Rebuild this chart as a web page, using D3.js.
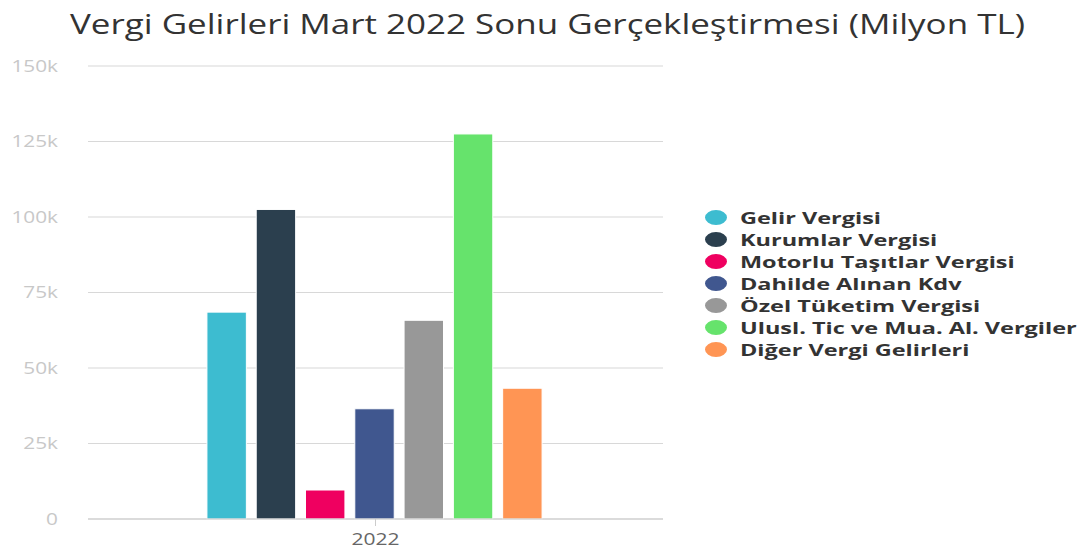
<!DOCTYPE html>
<html>
<head>
<meta charset="utf-8">
<script src="https://cdn.jsdelivr.net/npm/d3@7"></script>
<style>
  body { margin: 0; background: #fff; }
  text { font-family: "Open Sans", sans-serif; }
</style>
</head>
<body>
<div id="chart"></div>
<script>
var years = ["2022"];
var seriesNames = ["Gelir Vergisi", "Kurumlar Vergisi", "Motorlu Taşıtlar Vergisi", "Dahilde Alınan Kdv",
                   "Özel Tüketim Vergisi", "Ulusl. Tic ve Mua. Al. Vergiler", "Diğer Vergi Gelirleri"];
var seriesValues = [68500, 102500, 9600, 36500, 65800, 127500, 43300];
var seriesColors = ["#3dbcd0", "#2b3f4e", "#ef0060", "#40578f", "#989898", "#66e36c", "#ff9554"];
var yTicks = [0, 25000, 50000, 75000, 100000, 125000, 150000];

var W = 1088, H = 549;
var margin = {top: 66, right: 425, bottom: 30, left: 88};
var width = W - margin.left - margin.right,
    height = H - margin.top - margin.bottom;

var svg = d3.select("#chart").append("svg")
    .attr("width", W)
    .attr("height", H);

// title
svg.append("text")
    .attr("x", 70)
    .attr("y", 34)
    .attr("font-size", 27)
    .attr("fill", "#333")
    .attr("textLength", 955)
    .attr("lengthAdjust", "spacingAndGlyphs")
    .text("Vergi Gelirleri Mart 2022 Sonu Gerçekleştirmesi (Milyon TL)");

var g = svg.append("g")
    .attr("transform", "translate(" + margin.left + "," + margin.top + ")");

var y = d3.scaleLinear().domain([0, 150000]).range([height, 0]);

var x0 = d3.scaleBand().domain(years).range([0, width]).paddingInner(0).paddingOuter(1 / 3);
var x1 = d3.scaleBand().domain(seriesNames).range([0, x0.bandwidth()]).paddingInner(0.2).paddingOuter(0.1);

// gridlines
g.selectAll(".grid")
  .data(yTicks)
  .enter().append("line")
    .attr("x1", 0).attr("x2", width)
    .attr("y1", d => y(d)).attr("y2", d => y(d))
    .attr("stroke", "#d8d8d8")
    .attr("stroke-width", 1.2);

// y labels (stretched a bit horizontally, anchored on the right edge)
g.selectAll(".ylab")
  .data(yTicks)
  .enter().append("text")
    .attr("x", -30)
    .attr("y", d => y(d) + 6)
    .attr("text-anchor", "end")
    .attr("font-size", 16)
    .attr("fill", "#c8c8c8")
    .attr("transform", "translate(-30,0) scale(1.3,1) translate(30,0)")
    .text(d => d === 0 ? "0" : (d / 1000) + "k");

// bars
years.forEach(function(yr) {
  g.selectAll(".bar-" + yr)
    .data(seriesValues)
    .enter().append("rect")
      .attr("x", (d, i) => x0(yr) + x1(seriesNames[i]) - 1)
      .attr("y", d => y(d))
      .attr("width", x1.bandwidth())
      .attr("height", d => height - y(d))
      .attr("fill", (d, i) => seriesColors[i])
      .attr("stroke", "#fff")
      .attr("stroke-width", 1);
});

// x axis line + tick
g.append("line")
    .attr("x1", 0).attr("x2", width)
    .attr("y1", height).attr("y2", height)
    .attr("stroke", "#ccc").attr("stroke-width", 1.2);
g.selectAll(".xtick")
  .data(years)
  .enter().append("line")
    .attr("x1", d => x0(d) + x0.bandwidth() / 2)
    .attr("x2", d => x0(d) + x0.bandwidth() / 2)
    .attr("y1", height).attr("y2", height + 7)
    .attr("stroke", "#ccc");
g.selectAll(".xlab")
  .data(years)
  .enter().append("text")
    .attr("x", d => x0(d) + x0.bandwidth() / 2)
    .attr("y", height + 26)
    .attr("text-anchor", "middle")
    .attr("font-size", 16)
    .attr("fill", "#666")
    .attr("textLength", 48)
    .attr("lengthAdjust", "spacingAndGlyphs")
    .text(d => d);

// legend
var legend = svg.append("g").attr("transform", "translate(716,217.5)");
var items = legend.selectAll(".item")
  .data(seriesNames)
  .enter().append("g")
    .attr("transform", (d, i) => "translate(0," + (i * 22) + ")");
items.append("ellipse")
    .attr("rx", 11).attr("ry", 7.5)
    .attr("fill", (d, i) => seriesColors[i]);
var labels = items.append("text")
    .attr("x", 24)
    .attr("y", 6)
    .attr("font-size", 16.5)
    .attr("font-weight", "bold")
    .attr("fill", "#333")
    .text(d => d);
// stretch legend labels horizontally so the longest one fits
var maxLen = d3.max(labels.nodes(), n => n.getComputedTextLength());
var sx = 337 / maxLen;
labels.attr("transform", "translate(24,0) scale(" + sx + ",1) translate(-24,0)");
</script>
</body>
</html>
